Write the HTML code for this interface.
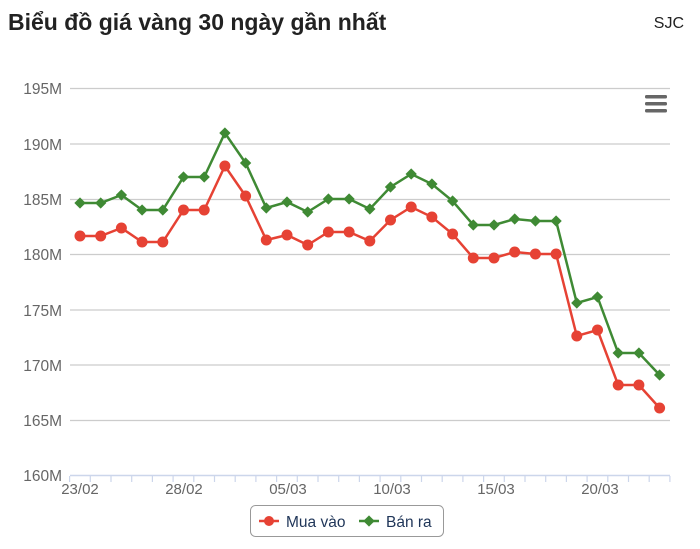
<!DOCTYPE html>
<html><head><meta charset="utf-8"><style>
body{margin:0;background:#fff;width:700px;height:544px;overflow:hidden;font-family:"Liberation Sans","DejaVu Sans",sans-serif}
</style></head><body>
<svg width="700" height="544" xmlns="http://www.w3.org/2000/svg" font-family="Liberation Sans, DejaVu Sans, sans-serif">
<text x="8" y="30" font-size="23" font-weight="bold" fill="#222">Biểu đồ giá vàng 30 ngày gần nhất</text>
<text x="684" y="28" font-size="16" fill="#222" text-anchor="end">SJC</text>
<g stroke="#ccc" stroke-width="1.2">
<line x1="70" y1="88.5" x2="670" y2="88.5"/>
<line x1="70" y1="144" x2="670" y2="144"/>
<line x1="70" y1="199.5" x2="670" y2="199.5"/>
<line x1="70" y1="254.5" x2="670" y2="254.5"/>
<line x1="70" y1="310" x2="670" y2="310"/>
<line x1="70" y1="365" x2="670" y2="365"/>
<line x1="70" y1="420.5" x2="670" y2="420.5"/>
</g>
<line x1="70" y1="475.5" x2="670" y2="475.5" stroke="#ccd6eb" stroke-width="1.5"/>
<g stroke="#ccd6eb" stroke-width="1.2" id="ticks"></g>
<g fill="#666" font-size="15.5" text-anchor="end">
<text x="62" y="94">195M</text><text x="62" y="150">190M</text><text x="62" y="205">185M</text>
<text x="62" y="260">180M</text><text x="62" y="316">175M</text><text x="62" y="371">170M</text>
<text x="62" y="426">165M</text><text x="62" y="481">160M</text>
</g>
<g fill="#666" font-size="15" text-anchor="middle">
<text x="80" y="494">23/02</text><text x="184" y="494">28/02</text><text x="288" y="494">05/03</text>
<text x="392" y="494">10/03</text><text x="496" y="494">15/03</text><text x="600" y="494">20/03</text>
</g>
<g fill="#666"><rect x="645" y="95" width="22" height="3.5" rx="1.5"/><rect x="645" y="102" width="22" height="3.5" rx="1.5"/><rect x="645" y="109" width="22" height="3.5" rx="1.5"/></g>
<g id="series"></g>
<rect x="250.5" y="505.5" width="193" height="31" rx="5" fill="#fff" stroke="#999"/>
<line x1="259" y1="521" x2="279" y2="521" stroke="#e64234" stroke-width="2.5"/><circle cx="269" cy="521" r="5" fill="#e64234"/>
<text x="286" y="527" font-size="15.5" fill="#1f3558">Mua vào</text>
<line x1="359" y1="521" x2="379" y2="521" stroke="#3f8a34" stroke-width="2.5"/><rect x="365" y="517" width="8" height="8" fill="#3f8a34" transform="rotate(45 369 521)"/>
<text x="386" y="527" font-size="15.5" fill="#1f3558">Bán ra</text>
</svg>
<script>
var ns="http://www.w3.org/2000/svg";
var t=document.getElementById("ticks");
for(var i=0;i<=29;i++){var x=69.6+i*20.7;var l=document.createElementNS(ns,"line");l.setAttribute("x1",x);l.setAttribute("x2",x);l.setAttribute("y1",476);l.setAttribute("y2",482);t.appendChild(l);}
var r=[236,236,228,242,242,210,210,166,196,240,235,245,232,232,241,220,207,217,234,258,258,252,254,254,336,330,385,385,408];
var g=[203,203,195,210,210,177,177,133,163,208,202,212,199,199,209,187,174,184,201,225,225,219,221,221,303,297,353,353,375];
var s=document.getElementById("series");
function draw(arr,col,circ){var pts=arr.map(function(y,i){return (80+i*20.7).toFixed(1)+","+y;}).join(" ");
var p=document.createElementNS(ns,"polyline");p.setAttribute("points",pts);p.setAttribute("fill","none");p.setAttribute("stroke",col);p.setAttribute("stroke-width","2.5");s.appendChild(p);
arr.forEach(function(y,i){var x=80+i*20.7;var m;
if(circ){m=document.createElementNS(ns,"circle");m.setAttribute("cx",x);m.setAttribute("cy",y);m.setAttribute("r",5.5);}
else{m=document.createElementNS(ns,"rect");m.setAttribute("x",x-4);m.setAttribute("y",y-4);m.setAttribute("width",8);m.setAttribute("height",8);m.setAttribute("transform","rotate(45 "+x+" "+y+")");}
m.setAttribute("fill",col);s.appendChild(m);});}
draw(r,"#e64234",true);draw(g,"#3f8a34",false);
</script>
</body></html>
